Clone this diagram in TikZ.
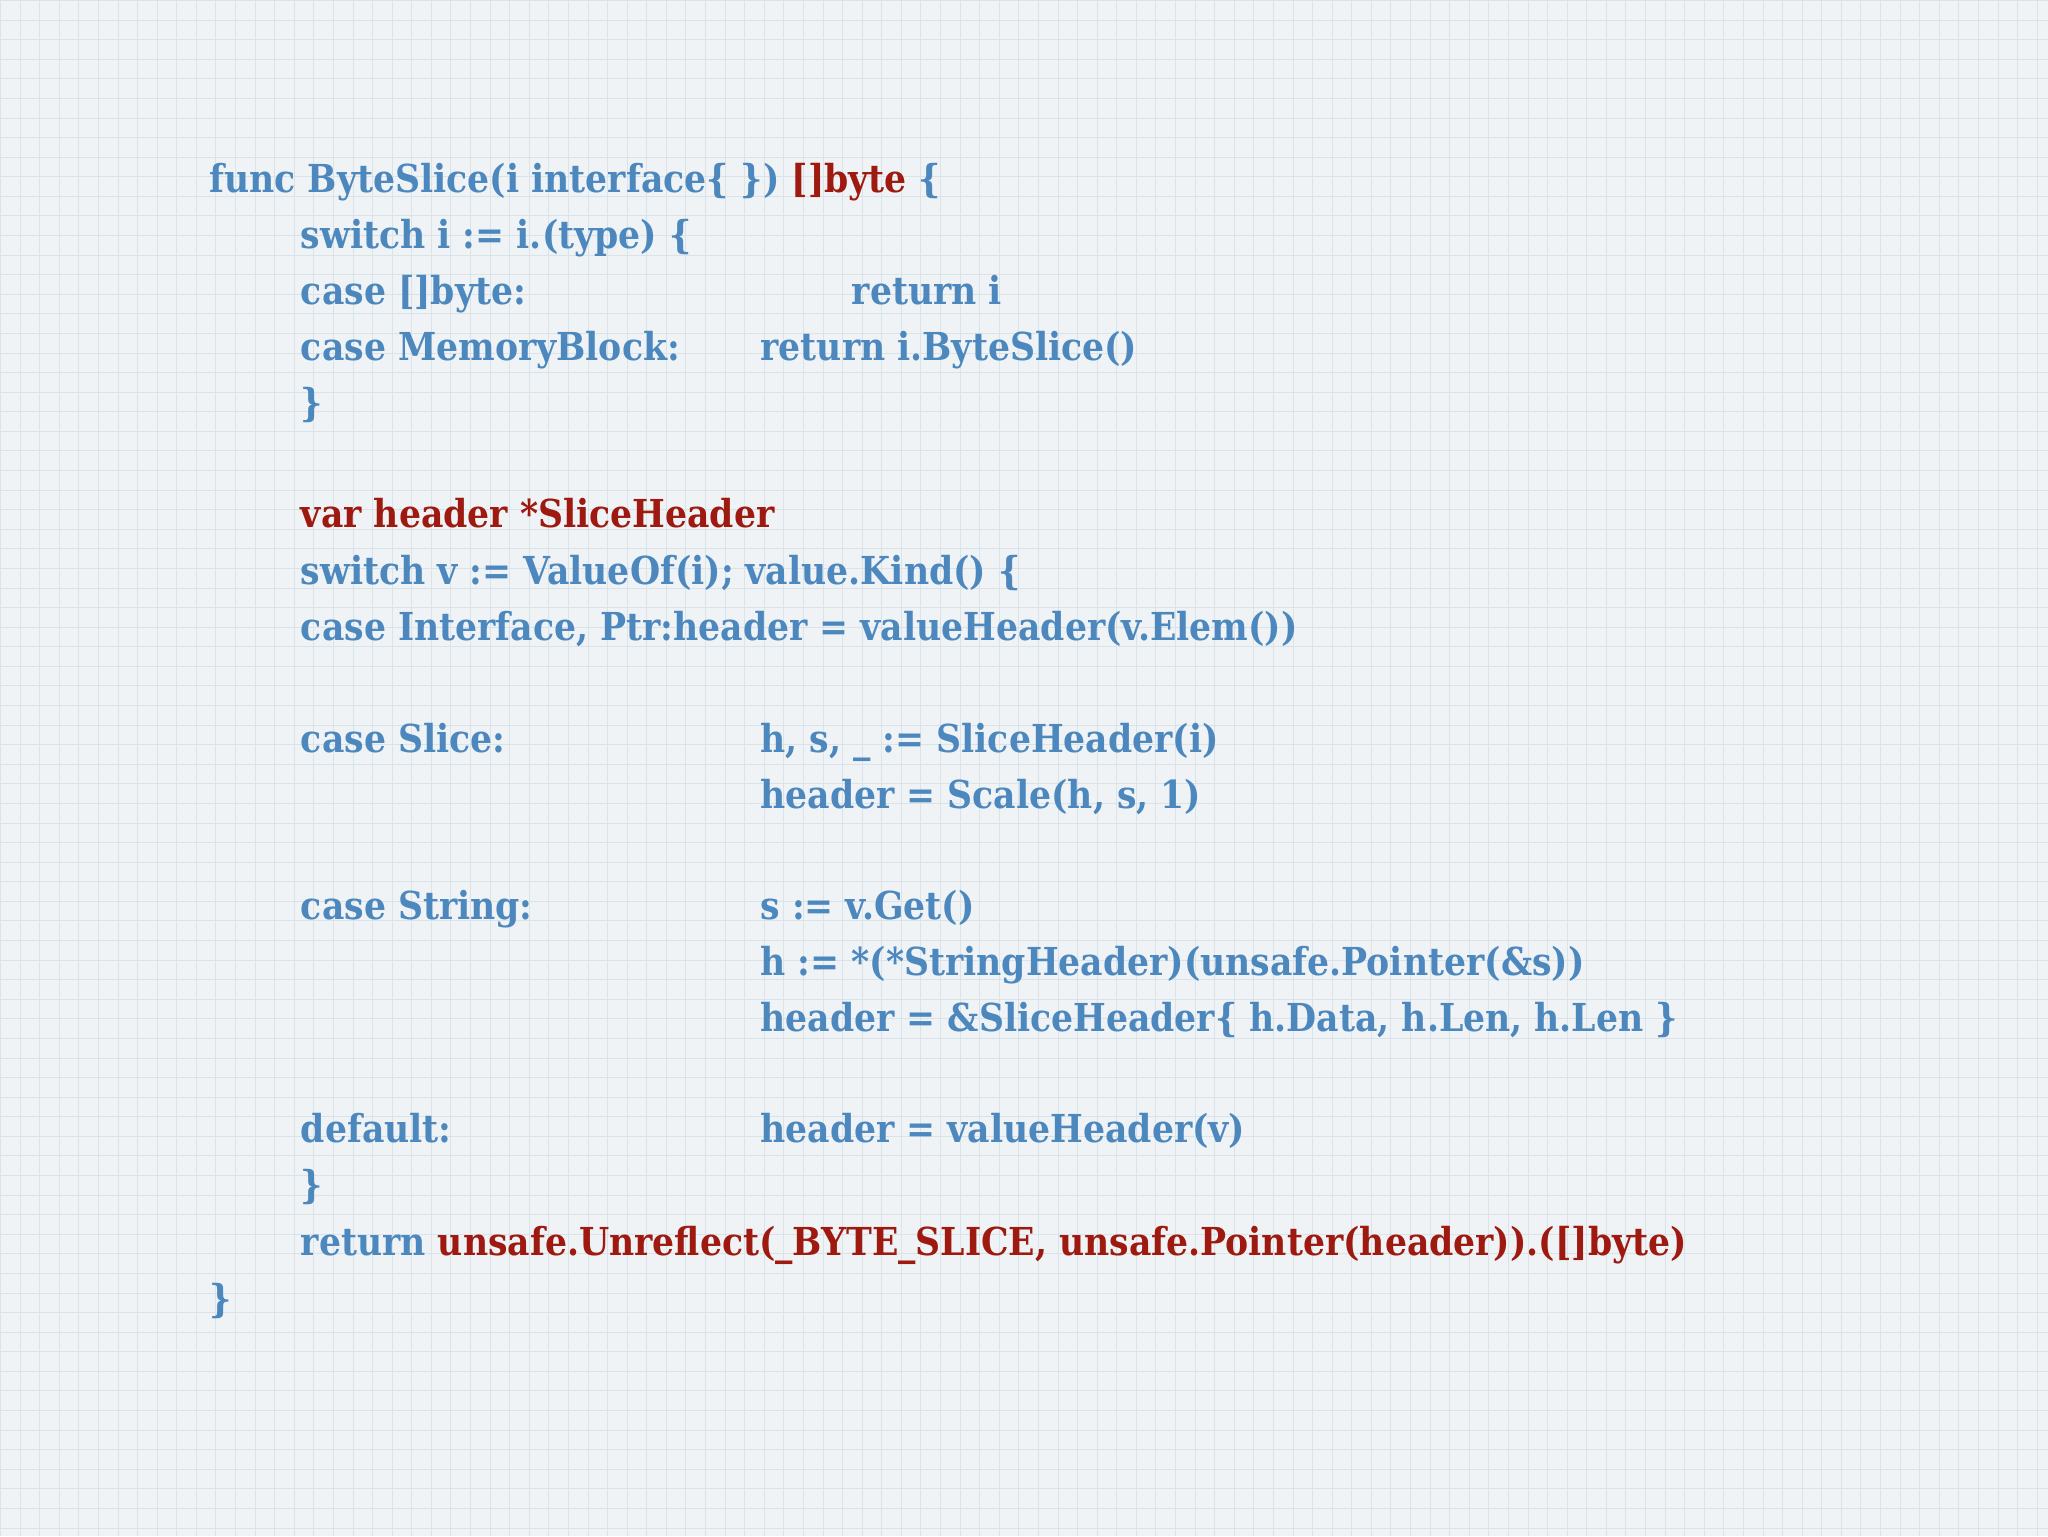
\documentclass[tikz,border=0pt]{standalone}
\usepackage{fontspec}
\setmainfont{DejaVu Serif Condensed}[BoldFont={DejaVu Serif Condensed Bold}]
\definecolor{cb}{HTML}{4C88BE}
\definecolor{cr}{HTML}{9E1A10}
\definecolor{bg}{HTML}{F0F3F5}
\definecolor{gl}{HTML}{D9E3E8}
\tikzset{code/.style={anchor=base west,inner sep=0pt,font=\fontsize{29.6}{36}\selectfont\bfseries,text=cb}}
\begin{document}
\begin{tikzpicture}[x=1bp,y=-1bp]
\fill[bg] (0,0) rectangle (1568,1176);
\draw[gl,line width=0.7bp,step=15bp] (0,0) grid (1568,1176);
\useasboundingbox (0,0) rectangle (1568,1176);
\node[code] (l1) at (160,147) {func ByteSlice(i interface\{ \}) \textcolor{cr}{[]byte} \{};
\node[code] (l2) at (230,190) {switch i := i.(type) \{};
\node[code] (l3) at (230,233) {case []byte:};
\node[code] (l3b) at (652,233) {return i};
\node[code] (l4) at (230,276) {case MemoryBlock:};
\node[code] (l4b) at (582,276) {return i.ByteSlice()};
\node[code] (l5) at (230,319) {\}};
\node[code,text=cr] (l6) at (230,404) {var header *SliceHeader};
\node[code] (l7) at (230,447) {switch v := ValueOf(i); value.Kind() \{};
\node[code] (l8) at (230,490) {case Interface, Ptr:header = valueHeader(v.Elem())};
\node[code] (l9) at (230,576) {case Slice:};
\node[code] (l9b) at (582,576) {h, s, \_ := SliceHeader(i)};
\node[code] (l10) at (582,619) {header = Scale(h, s, 1)};
\node[code] (l11) at (230,704) {case String:};
\node[code] (l11b) at (582,704) {s := v.Get()};
\node[code] (l12) at (582,747) {h := *(*StringHeader)(unsafe.Pointer(\&s))};
\node[code] (l13) at (582,790) {header = \&SliceHeader\{ h.Data, h.Len, h.Len \}};
\node[code] (l14) at (230,875) {default:};
\node[code] (l14b) at (582,875) {header = valueHeader(v)};
\node[code] (l15) at (230,918) {\}};
\node[code] (l16) at (230,961) {return \textcolor{cr}{unsafe.Unreflect(\_BYTE\_SLICE, unsafe.Pointer(header)).([]byte)}};
\node[code] (l17) at (160,1005) {\}};
\end{tikzpicture}
\end{document}
